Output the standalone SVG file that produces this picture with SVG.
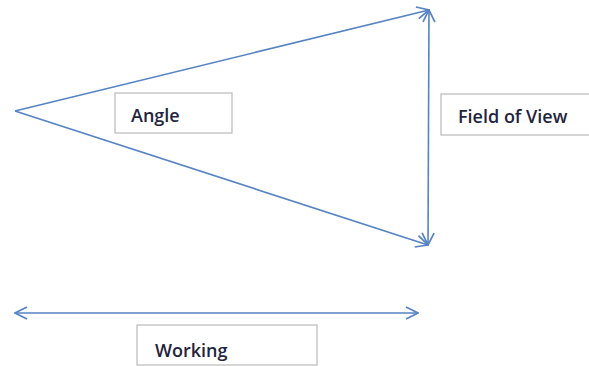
<svg xmlns="http://www.w3.org/2000/svg" width="589" height="366" viewBox="0 0 589 366">
<style>
.ln{stroke:#5583c4;stroke-width:1.6;fill:none}
.box{fill:#fff;stroke:#bfbfbf;stroke-width:1.3}
.lbl{font-family:"Open Sans","Liberation Sans",sans-serif;font-weight:600;font-size:18px;fill:#1f2440}
</style>
<defs>
<marker id="ah" viewBox="0 0 14 14" refX="13" refY="7" markerWidth="14" markerHeight="14" markerUnits="userSpaceOnUse" orient="auto-start-reverse">
<path d="M1,1 L13,7 L1,13" fill="none" stroke="#5583c4" stroke-width="1.7"/>
</marker>
</defs>
<rect width="589" height="366" fill="#fff"/>
<g id="connectors">
<line class="ln" x1="15" y1="111" x2="429" y2="10" marker-end="url(#ah)"/>
<line class="ln" x1="15" y1="111" x2="428" y2="245" marker-end="url(#ah)"/>
<line class="ln" x1="429" y1="10" x2="428" y2="245" marker-start="url(#ah)" marker-end="url(#ah)"/>
<line class="ln" x1="15" y1="313" x2="418" y2="313" marker-start="url(#ah)" marker-end="url(#ah)"/>
</g>
<g id="angle">
<rect class="box" x="115" y="93" width="117" height="40"/>
<text class="lbl" x="131" y="122">Angle</text>
</g>
<g id="fov">
<rect class="box" x="441" y="94" width="150" height="41"/>
<text class="lbl" x="458" y="123">Field of View</text>
</g>
<g id="working">
<rect class="box" x="137" y="325" width="180" height="40"/>
<text class="lbl" x="155" y="357">Working</text>
</g>
</svg>
